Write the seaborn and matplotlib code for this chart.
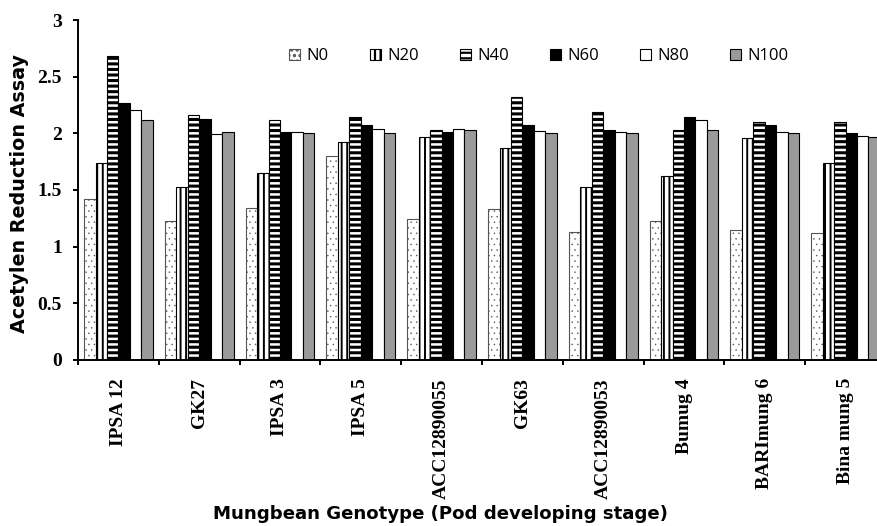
import matplotlib
matplotlib.use("Agg")
import matplotlib.pyplot as plt
import seaborn as sns
import pandas as pd
import numpy as np

# valeurs
genotypes = ["IPSA 12", "GK27", "IPSA 3", "IPSA 5", "ACC12890055", "GK63",
             "ACC12890053", "Bumug 4", "BARImung 6", "Bina mung 5"]
levels = ["N0", "N20", "N40", "N60", "N80", "N100"]
n0 = [1.42, 1.23, 1.34, 1.80, 1.24, 1.33, 1.13, 1.23, 1.15, 1.12]
n20 = [1.74, 1.53, 1.65, 1.92, 1.97, 1.87, 1.53, 1.62, 1.96, 1.74]
n40 = [2.68, 2.16, 2.12, 2.14, 2.03, 2.32, 2.19, 2.03, 2.10, 2.10]
n60 = [2.27, 2.13, 2.01, 2.07, 2.01, 2.07, 2.03, 2.14, 2.07, 2.00]
n80 = [2.21, 1.99, 2.01, 2.04, 2.04, 2.02, 2.01, 2.12, 2.01, 1.98]
n100 = [2.12, 2.01, 2.00, 2.00, 2.03, 2.00, 2.00, 2.03, 2.00, 1.97]
y_ticks = [0, 0.5, 1, 1.5, 2, 2.5, 3]
y_ticklabels = ["0", "0.5", "1", "1.5", "2", "2.5", "3"]

df = pd.DataFrame({
    "Genotype": genotypes * len(levels),
    "Level": np.repeat(levels, len(genotypes)),
    "Value": n0 + n20 + n40 + n60 + n80 + n100,
})

faces = {"N0": "white", "N20": "white", "N40": "white",
         "N60": "black", "N80": "white", "N100": "#9a9a9a"}
hatches = ["...", "|||", "---", "", "", ""]
hatch_lw = [0.3, 1.4, 2.2, 1.0, 1.0, 1.0]
edges = ["#555555", "black", "black", "black", "black", "black"]

plt.rcParams["hatch.linewidth"] = 1.6

fig = plt.figure(figsize=(8.77, 5.26), dpi=100)
ax = fig.add_axes([78 / 877, 166 / 526, 808 / 877, 340 / 526])

sns.barplot(data=df, x="Genotype", y="Value", hue="Level", order=genotypes,
            hue_order=levels, palette=faces, width=0.85, saturation=1,
            edgecolor="black", linewidth=0.8, errorbar=None, legend=False, ax=ax)

for cont, h, lw, ec in zip(ax.containers, hatches, hatch_lw, edges):
    for p in cont.patches:
        p.set_hatch(h)
        p.set_edgecolor(ec)
        if hasattr(p, "set_hatch_linewidth"):
            p.set_hatch_linewidth(lw)

ax.set_xlim(-0.5, 9.5)
ax.set_ylim(0, 3)
ax.set_xlabel("")
ax.set_ylabel("")

for s in ["top", "right"]:
    ax.spines[s].set_visible(False)
for s in ["left", "bottom"]:
    ax.spines[s].set_linewidth(1.4)

ax.set_yticks(y_ticks, y_ticklabels)
ax.set_xticks(range(len(genotypes)), genotypes, rotation=90)
ax.set_xticks(np.arange(-0.5, len(genotypes), 1), minor=True)
ax.tick_params(axis="x", which="major", length=0, pad=13)
ax.tick_params(axis="x", which="minor", length=3.6, width=1.4, direction="out")
ax.tick_params(axis="y", length=3.6, width=1.4, direction="out", pad=8)
for lab in ax.get_xticklabels() + ax.get_yticklabels():
    lab.set_fontfamily("Liberation Serif")
    lab.set_fontweight("bold")
    lab.set_fontsize(14)

handles = [c.patches[0] for c in ax.containers]
ax.legend(handles, levels, loc="center", bbox_to_anchor=(0.6146, 0.8935),
          bbox_transform=fig.transFigure, ncol=6, frameon=False,
          prop={"family": "Open Sans", "size": 12},
          handlelength=0.65, handleheight=0.65, handletextpad=0.4,
          columnspacing=2.45, borderpad=0)

ylab = fig.text(20 / 877, 1 - 194 / 526, "Acetylen Reduction Assay", rotation=90,
                ha="center", va="center", family="DejaVu Sans",
                fontweight="bold", fontsize=12)
xlab = fig.text(440 / 877, 1 - 514 / 526, "Mungbean Genotype (Pod developing stage)",
                ha="center", va="center", family="DejaVu Sans",
                fontweight="bold", fontsize=12)

# ajuster la taille des titres d'axe à la longueur mesurée
fig.canvas.draw()
r = fig.canvas.get_renderer()
h = ylab.get_window_extent(r).height
ylab.set_fontsize(12 * 278 / h)
w = xlab.get_window_extent(r).width
xlab.set_fontsize(12 * 455 / w)

fig.savefig("out.png", dpi=100)
